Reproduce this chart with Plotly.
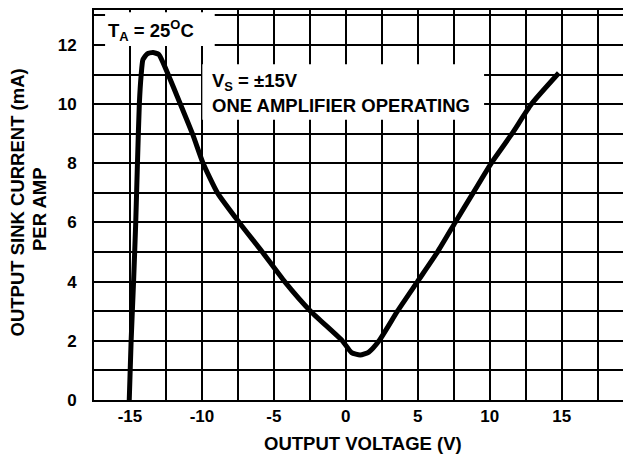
import plotly.graph_objects as go

# Curve: output sink current (mA) vs output voltage (V)
voltage = [-15.05, -14.92, -14.75, -14.6, -14.48, -14.35, -14.22, -14.1, -13.8, -13.4, -13.0,
           -12.7, -10.66, -9.92, -8.92, -7.41, -5.8, -4.25, -2.45, -0.24,
           0.4, 1.0, 1.6, 2.31, 3.59, 4.98, 6.37, 7.6, 8.85, 10.1, 11.55, 12.9, 14.8]
current = [0.0, 2.0, 4.0, 6.0, 8.0, 10.0, 11.0, 11.5, 11.7, 11.74, 11.68,
           11.4, 9.0, 8.0, 7.0, 6.0, 5.0, 4.0, 3.0, 2.0,
           1.6, 1.52, 1.62, 2.0, 3.0, 4.0, 5.0, 6.0, 7.0, 8.0, 9.0, 10.0, 11.05]

x_tickvals = [-17.5, -15, -12.5, -10, -7.5, -5, -2.5, 0, 2.5, 5, 7.5, 10, 12.5, 15, 17.5]
x_ticktext = ["", "-15", "", "-10", "", "-5", "", "0", "", "5", "", "10", "", "15", ""]
y_tickvals = [0, 1, 2, 3, 4, 5, 6, 7, 8, 9, 10, 11, 12, 13]
y_ticktext = ["0", "", "2", "", "4", "", "6", "", "8", "", "10", "", "12", ""]

FONT = "Liberation Sans, Arial, Helvetica, sans-serif"

fig = go.Figure()
fig.add_trace(go.Scatter(x=voltage, y=current, mode="lines",
                         line=dict(color="black", width=5, shape="spline", smoothing=0.5),
                         showlegend=False, hoverinfo="skip"))

fig.update_layout(
    width=623, height=450,
    margin=dict(l=86, r=0, t=0, b=58),
    paper_bgcolor="white", plot_bgcolor="white",
    font=dict(family=FONT, color="black", size=17, weight="bold"),
    showlegend=False,
    xaxis=dict(range=[-17.5, 19.82], tickvals=x_tickvals, ticktext=x_ticktext,
               showgrid=True, gridcolor="black", gridwidth=1.6,
               showline=True, linecolor="black", linewidth=2, mirror=True,
               ticks="", zeroline=False, ticklabelstandoff=0,
               tickfont=dict(family=FONT, size=17, weight="bold")),
    yaxis=dict(range=[0, 13.18], tickvals=y_tickvals, ticktext=y_ticktext,
               showgrid=True, gridcolor="black", gridwidth=1.6,
               showline=True, linecolor="black", linewidth=2,
               ticks="", zeroline=False, ticklabelstandoff=12,
               tickfont=dict(family=FONT, size=17, weight="bold")),
)

# white label boxes
fig.add_shape(type="rect", xref="x", yref="y", x0=-16.73, x1=-9.11, y0=11.96, y1=13.1,
              fillcolor="white", line=dict(width=0), layer="above")
fig.add_shape(type="rect", xref="x", yref="y", x0=-9.97, x1=9.61, y0=9.47, y1=11.35,
              fillcolor="white", line=dict(width=0), layer="above")

ann_font = dict(family=FONT, size=18.5, color="black", weight="bold")
fig.add_annotation(x=-16.7, y=12.49, xref="x", yref="y", xanchor="left", yanchor="middle",
                   text="T<sub>A</sub> = 25<sup>O</sup>C", showarrow=False, font=ann_font)
fig.add_annotation(x=-9.45, y=10.76, xref="x", yref="y", xanchor="left", yanchor="middle",
                   text="V<sub>S</sub> = ±15V", showarrow=False, font=ann_font)
fig.add_annotation(x=-9.45, y=9.96, xref="x", yref="y", xanchor="left", yanchor="middle",
                   text="ONE AMPLIFIER OPERATING", showarrow=False, font=ann_font)

# axis titles (plot area spans window x 94..631, y 8..400)
fig.add_annotation(x=(362.5 - 94) / 537, y=(400 - 443.5) / 392, xref="paper", yref="paper",
                   xanchor="center", yanchor="middle", text="OUTPUT VOLTAGE (V)",
                   showarrow=False, font=ann_font)
fig.add_annotation(x=(17.5 - 94) / 537, y=(400 - 202) / 392, xref="paper", yref="paper",
                   xanchor="center", yanchor="middle", text="OUTPUT SINK CURRENT (mA)",
                   textangle=-90, showarrow=False, font=ann_font)
fig.add_annotation(x=(40 - 94) / 537, y=(400 - 208) / 392, xref="paper", yref="paper",
                   xanchor="center", yanchor="middle", text="PER AMP",
                   textangle=-90, showarrow=False, font=ann_font)

fig.write_html("out.html")
